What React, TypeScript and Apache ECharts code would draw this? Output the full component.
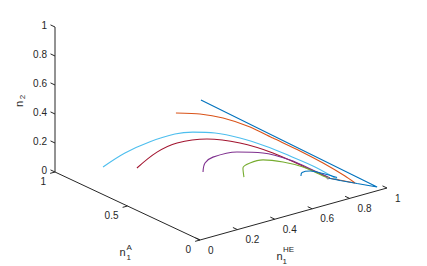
import React, { useEffect, useRef } from "react";
import * as echarts from "echarts";

// ---- tick values / labels ----
const heTicks = [0, 0.2, 0.4, 0.6, 0.8, 1];
const heTickLabels = ["0", "0.2", "0.4", "0.6", "0.8", "1"];
const aTicks = [0, 0.5, 1];
const aTickLabels = ["0", "0.5", "1"];
const n2Ticks = [0, 0.2, 0.4, 0.6, 0.8, 1];
const n2TickLabels = ["0", "0.2", "0.4", "0.6", "0.8", "1"];

// ---- trajectories (n1HE, n1A, n2) ----
const c1HE = [0.005, 0.481, 0.947, 0.84, 0.749, 0.684];
const c1A = [0, 0, 0, 0, 0, 0];
const c1N2 = [0.963, 0.49, 0.026, 0.088, 0.142, 0.182];

const c2HE = [0.0, 0.116, 0.228, 0.357, 0.464, 0.589, 0.693, 0.791, 0.829, 0.759, 0.684];
const c2A = [0.166, 0.15, 0.135, 0.115, 0.095, 0.07, 0.045, 0.02, 0.0, 0.0, 0.0];
const c2N2 = [0.798, 0.757, 0.696, 0.598, 0.492, 0.37, 0.261, 0.148, 0.096, 0.138, 0.182];

const c3HE = [0.001, 0.064, 0.136, 0.207, 0.249, 0.313, 0.392, 0.472, 0.559, 0.654, 0.749];
const c3A = [0.67, 0.6, 0.52, 0.44, 0.37, 0.3, 0.23, 0.16, 0.1, 0.05, 0];
const c3N2 = [0.189, 0.296, 0.385, 0.45, 0.481, 0.485, 0.455, 0.404, 0.332, 0.246, 0.139];

const c4HE = [0.004, 0.057, 0.11, 0.208, 0.322, 0.452, 0.595, 0.695];
const c4A = [0.44, 0.37, 0.3, 0.22, 0.14, 0.08, 0.03, 0];
const c4N2 = [0.289, 0.412, 0.489, 0.519, 0.488, 0.401, 0.269, 0.179];

const c5HE = [0.21, 0.213, 0.232, 0.314, 0.414, 0.528, 0.641, 0.684];
const c5A = [0.25, 0.24, 0.21, 0.15, 0.1, 0.06, 0.02, 0];
const c5N2 = [0.277, 0.342, 0.39, 0.424, 0.405, 0.334, 0.23, 0.189];

const c6HE = [0.328, 0.315, 0.345, 0.399, 0.483, 0.574, 0.658, 0.684];
const c6A = [0.12, 0.11, 0.1, 0.08, 0.05, 0.03, 0, 0];
const c6N2 = [0.26, 0.332, 0.361, 0.372, 0.341, 0.283, 0.206, 0.182];

const c7HE = [0.563, 0.569, 0.604, 0.666, 0.733];
const c7A = [0.03, 0.03, 0.02, 0.01, 0];
const c7N2 = [0.226, 0.248, 0.25, 0.215, 0.168];

const eqHE = [0.684];
const eqA = [0];
const eqN2 = [0.182];

// ---- view projection (layout) ----
const O = [200, 240];
const EH = [187, -52];
const EA = [-145, -68];
const EZ = [0, -145];
function project(h: number, a: number, z: number): [number, number] {
  return [O[0] + EH[0] * h + EA[0] * a + EZ[0] * z, O[1] + EH[1] * h + EA[1] * a + EZ[1] * z];
}

const TXT = "#262626";
const FONT = '"Liberation Sans", Arial, Helvetica, sans-serif';

function tickSeries(
  ticks: number[],
  labels: string[],
  pt: (t: number) => [number, number, number],
  dir: [number, number, number],
  off: [number, number],
  align: string
) {
  return {
    type: "custom",
    coordinateSystem: "cartesian2d",
    clip: false,
    silent: true,
    z: 3,
    data: ticks.map((t) => {
      const p = pt(t);
      return project(p[0], p[1], p[2]);
    }),
    renderItem: (params: any, api: any) => {
      const i = params.dataIndex;
      const p = pt(ticks[i]);
      const s = api.coord(project(p[0], p[1], p[2]));
      const e = api.coord(project(p[0] + dir[0], p[1] + dir[1], p[2] + dir[2]));
      return {
        type: "group",
        children: [
          {
            type: "line",
            shape: { x1: s[0], y1: s[1], x2: e[0], y2: e[1] },
            style: { stroke: TXT, lineWidth: 1 },
          },
          {
            type: "text",
            x: s[0] + off[0],
            y: s[1] + off[1],
            style: {
              text: labels[i],
              fill: TXT,
              fontSize: 10,
              fontFamily: FONT,
              align: align,
              verticalAlign: "middle",
            },
          },
        ],
      };
    },
  };
}

export default function App() {
  const ref = useRef<HTMLDivElement>(null);
  useEffect(() => {
    if (!ref.current) return;
    const chart = echarts.init(ref.current, undefined, { renderer: "svg" });
    const curves = [
      { color: "#A2142F", he: c4HE, a: c4A, n2: c4N2, smooth: 0.35 },
      { color: "#4DBEEE", he: c3HE, a: c3A, n2: c3N2, smooth: 0.35 },
      { color: "#7E2F8E", he: c5HE, a: c5A, n2: c5N2, smooth: 0.35 },
      { color: "#77AC30", he: c6HE, a: c6A, n2: c6N2, smooth: 0.35 },
      { color: "#0072BD", he: c7HE, a: c7A, n2: c7N2, smooth: 0.35 },
      { color: "#D95319", he: c2HE, a: c2A, n2: c2N2, smooth: 0.2 },
      { color: "#0072BD", he: c1HE, a: c1A, n2: c1N2, smooth: false },
    ];
    const axisLine = (p: [number, number][]) => ({
      type: "line",
      data: p,
      symbol: "none",
      silent: true,
      lineStyle: { color: TXT, width: 1 },
      z: 3,
    });
    const series: any[] = [
      axisLine([project(0, 0, 0), project(1, 0, 0)]),
      axisLine([project(0, 0, 0), project(0, 1, 0)]),
      axisLine([project(0, 1, 0), project(0, 1, 1)]),
      tickSeries(heTicks, heTickLabels, (t) => [t, 0, 0], [0, 0.031, 0], [8, 10], "left"),
      tickSeries(aTicks, aTickLabels, (t) => [0, t, 0], [-0.026, 0, 0], [-9, 9.5], "right"),
      tickSeries(n2Ticks, n2TickLabels, (t) => [0, 1, t], [0, 0.031, 0], [-8, -2], "right"),
      ...curves.map((c) => ({
        type: "line",
        data: c.he.map((h, i) => project(h, c.a[i], c.n2[i])),
        symbol: "none",
        smooth: c.smooth,
        silent: true,
        lineStyle: { color: c.color, width: 1.1 },
        z: 2,
      })),
      {
        type: "scatter",
        data: eqHE.map((h, i) => project(h, eqA[i], eqN2[i])),
        symbolSize: 3,
        itemStyle: { color: "#8c8c8c" },
        silent: true,
        z: 4,
      },
    ];
    const t = (text: string, x: number, y: number, size: number, rot = 0, align = "center") => ({
      type: "text",
      x,
      y,
      rotation: rot,
      style: { text, fill: TXT, fontSize: size, fontFamily: FONT, align, verticalAlign: "middle" },
    });
    chart.setOption({
      animation: false,
      backgroundColor: "#ffffff",
      grid: { left: 0, right: 0, top: 0, bottom: 0 },
      xAxis: { type: "value", min: 0, max: 427, show: false },
      yAxis: { type: "value", min: 0, max: 266, inverse: true, show: false },
      series,
      graphic: [
        t("n", 18.5, 104, 11, Math.PI / 2),
        t("2", 22.5, 97, 8, Math.PI / 2),
        t("n", 122.5, 252, 11),
        t("A", 126.5, 247, 8, 0, "left"),
        t("1", 126.5, 257.5, 8, 0, "left"),
        t("n", 279.5, 256, 11),
        t("HE", 283, 249.5, 8, 0, "left"),
        t("1", 282.5, 261, 8, 0, "left"),
      ],
    });
    return () => chart.dispose();
  }, []);
  return (
    <div
      ref={ref}
      style={{ position: "fixed", left: 0, top: 0, width: 427, height: 266, background: "#fff" }}
    />
  );
}
